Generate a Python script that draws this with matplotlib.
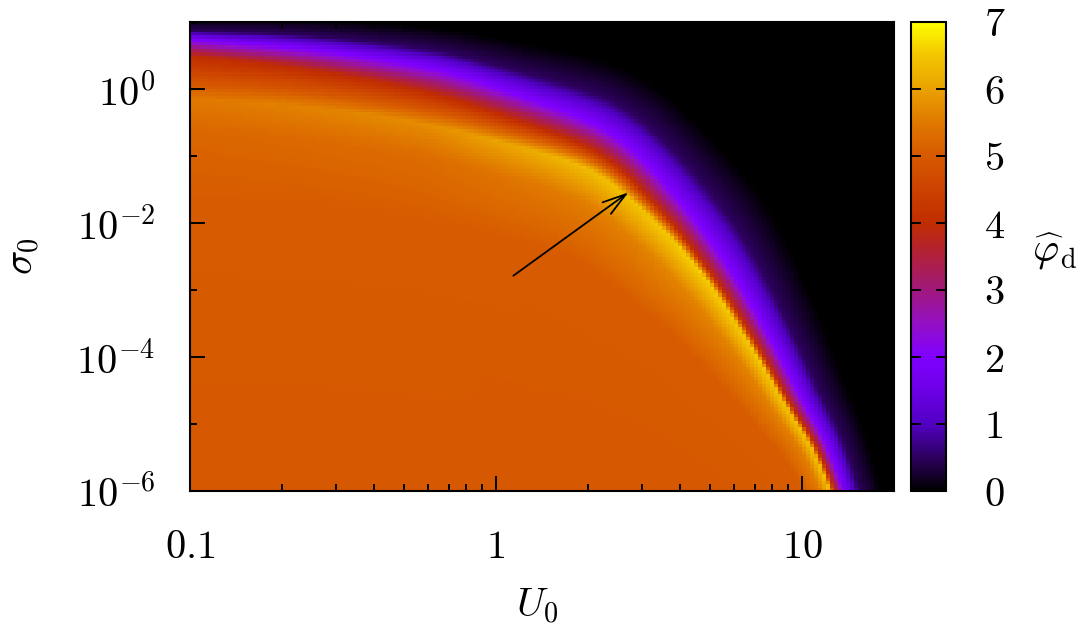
import numpy as np
import matplotlib
matplotlib.use('Agg')
import matplotlib.pyplot as plt
from matplotlib.colors import LinearSegmentedColormap, Normalize
from matplotlib.ticker import FixedLocator, NullFormatter

plt.rcParams['mathtext.fontset'] = 'cm'
plt.rcParams['font.family'] = 'serif'

# ridge of the bright band (U0 -> sigma0)
ridge_U = [0.07, 0.10, 0.229, 0.588, 1.035, 1.89, 2.59, 4.43, 6.65, 9.0, 10.7, 12.4, 14.5]
ridge_sig = [0.80, 0.72, 0.58, 0.32, 0.165, 0.078, 0.031, 2.85e-3, 1.8e-4, 1.6e-5, 4.9e-6, 1.0e-6, 1.0e-7]

# cross-band profile along the ridge (offsets in screen pixels)
prof_U = [0.1, 0.59, 1.9, 4.4, 9.0, 12.4]
peak_val = [5.5, 5.75, 6.35, 6.6, 6.5, 6.4]
red_px = [43, 31, 20, 8, 5, 4.5]
violet_px = [59, 56, 44, 27, 17, 13]
dark_px = [68, 74, 72, 56, 36, 28]     # level 0.5
tail_px = [80, 97, 108, 95, 65, 50]    # level 0
inner_px = [100, 95, 90, 70, 35, 24]
interior_val = 5.0

# arrow
arrow_from = (1.14, 1.65e-3)
arrow_to = (2.71, 0.029)

# palette
cmap_vals = [0, 0.5, 1, 1.5, 2, 2.5, 3, 3.5, 4, 4.5, 5, 5.5, 6, 6.5, 7]
cmap_cols = ['#000000', '#2e0060', '#5200c4', '#6c00e6', '#8000ff', '#9410c4',
             '#a0187c', '#b0203c', '#c02c00', '#cc4200', '#d65800', '#e07800',
             '#eaa000', '#f2c400', '#ffff00']
cb_ticks = [0, 1, 2, 3, 4, 5, 6, 7]

x_major = [0.1, 1, 10]
x_labels = [r'$0.1$', r'$1$', r'$10$']
y_major = [1e-6, 1e-4, 1e-2, 1e0]
y_labels = [r'$10^{-6}$', r'$10^{-4}$', r'$10^{-2}$', r'$10^{0}$']
y_minor = [1e-5, 1e-3, 1e-1, 1e1]

xmin, xmax = 0.1, 20.0
ymin, ymax = 1e-6, 10.2

W, H = 1084, 627
ax_rect = [190 / W, 1 - 491 / H, 704 / W, 469 / H]
cb_rect = [911 / W, 1 - 491 / H, 35 / W, 469 / H]
FS = 29

# screen scale (pixels per decade)
sx = 704 / (np.log10(xmax) - np.log10(xmin))
sy = 469 / (np.log10(ymax) - np.log10(ymin))


def to_px(u, s):
    return (np.log10(u) - np.log10(xmin)) * sx, (np.log10(s) - np.log10(ymin)) * sy


def chaikin(P, n=5):
    for _ in range(n):
        Q = 0.75 * P[:-1] + 0.25 * P[1:]
        R = 0.25 * P[:-1] + 0.75 * P[1:]
        mid = np.empty((2 * len(Q), 2))
        mid[0::2] = Q
        mid[1::2] = R
        P = np.vstack([P[:1], mid, P[-1:]])
    return P


nx, ny = 176, 140
xe = np.logspace(np.log10(xmin), np.log10(xmax), nx + 1)
ye = np.logspace(np.log10(ymin), np.log10(ymax), ny + 1)
xc = np.sqrt(xe[:-1] * xe[1:])
yc = np.sqrt(ye[:-1] * ye[1:])
UU, SS = np.meshgrid(xc, yc)
X, Y = to_px(UU, SS)

rx, ry = to_px(np.array(ridge_U), np.array(ridge_sig))
C = chaikin(np.column_stack([rx, ry]))

best = np.full(X.shape, np.inf)
sgn = np.ones(X.shape)
along = np.zeros(X.shape)
for a, b in zip(C[:-1], C[1:]):
    d = b - a
    t = np.clip(((X - a[0]) * d[0] + (Y - a[1]) * d[1]) / (d @ d), 0, 1)
    qx = a[0] + t * d[0]
    qy = a[1] + t * d[1]
    dist = np.hypot(X - qx, Y - qy)
    cross = d[0] * (Y - a[1]) - d[1] * (X - a[0])
    m = dist < best
    best[m] = dist[m]
    sgn[m] = np.where(cross[m] >= 0, 1.0, -1.0)
    along[m] = qx[m]

s = (sgn * best).ravel()
lu = (along / sx + np.log10(xmin)).ravel()
lp = np.log10(prof_U)
pk = np.interp(lu, lp, peak_val)
r = np.interp(lu, lp, red_px)
v = np.interp(lu, lp, violet_px)
k = np.interp(lu, lp, dark_px)
tl = np.interp(lu, lp, tail_px)
inn = np.interp(lu, lp, inner_px)
big = np.full_like(s, 1e9)
ones = np.ones_like(s)

S = np.column_stack([-big, -3 * inn, -inn, -0.35 * inn, 0 * s, r, v, k, tl, big])
V = np.column_stack([interior_val * ones, interior_val * ones, (interior_val + 0.05) * ones,
                     interior_val + 0.4 * (pk - interior_val), pk, 4.0 * ones, 2.0 * ones,
                     0.5 * ones, 0 * ones, 0 * ones])
phi = np.zeros_like(s)
for j in range(S.shape[1] - 1):
    s0, s1 = S[:, j], S[:, j + 1]
    m = (s >= s0) & (s <= s1)
    w = (s[m] - s0[m]) / (s1[m] - s0[m])
    phi[m] = V[m, j] + w * (V[m, j + 1] - V[m, j])
phi = phi.reshape(X.shape)

cmap = LinearSegmentedColormap.from_list(
    'pal', [(val / 7.0, c) for val, c in zip(cmap_vals, cmap_cols)])
norm = Normalize(0, 7)

fig = plt.figure(figsize=(W / 100, H / 100), dpi=100)
ax = fig.add_axes(ax_rect)
cax = fig.add_axes(cb_rect)

mesh = ax.pcolormesh(xe, ye, phi, cmap=cmap, norm=norm, shading='flat',
                     edgecolors='none', antialiased=False, rasterized=True)
ax.set_xscale('log')
ax.set_yscale('log')
ax.set_xlim(xmin, xmax)
ax.set_ylim(ymin, ymax)

ax.set_xticks(x_major)
ax.set_xticklabels(x_labels)
ax.xaxis.set_minor_locator(FixedLocator([m * 10.0 ** e for e in (-1, 0, 1) for m in range(2, 10)]))
ax.xaxis.set_minor_formatter(NullFormatter())
ax.set_yticks(y_major)
ax.set_yticklabels(y_labels)
ax.yaxis.set_minor_locator(FixedLocator(y_minor))
ax.yaxis.set_minor_formatter(NullFormatter())

ax.tick_params(which='both', direction='in', top=True, right=True, width=1.4, labelsize=FS)
ax.tick_params(which='major', length=10.5)
ax.tick_params(which='minor', length=5)
ax.tick_params(axis='x', which='major', pad=27)
ax.tick_params(axis='y', which='major', pad=25)
for sp in ax.spines.values():
    sp.set_linewidth(1.5)

ax.annotate('', xy=arrow_to, xytext=arrow_from,
            arrowprops=dict(arrowstyle='->,head_length=0.5,head_width=0.15',
                            lw=1.3, color='black', mutation_scale=34,
                            shrinkA=0, shrinkB=0))

cb = fig.colorbar(mesh, cax=cax, ticks=cb_ticks)
cb.outline.set_linewidth(1.5)
cax.yaxis.set_ticks_position('both')
cax.tick_params(which='both', direction='in', length=7, width=1.4, labelsize=FS,
                labelleft=False, labelright=True, pad=27)
cax.set_yticklabels([rf'${t}$' for t in cb_ticks])
cax.minorticks_off()

fig.text(537 / W, 1 - 606 / H, r'$U_0$', fontsize=FS, ha='center', va='center')
fig.text(24 / W, 1 - 256 / H, r'$\sigma_0$', fontsize=FS, ha='center', va='center', rotation=90)
fig.text(1055 / W, 1 - 252 / H, r'$\widehat{\varphi}_{\rm d}$', fontsize=FS, ha='center', va='center')

fig.savefig('out.png', dpi=100)
